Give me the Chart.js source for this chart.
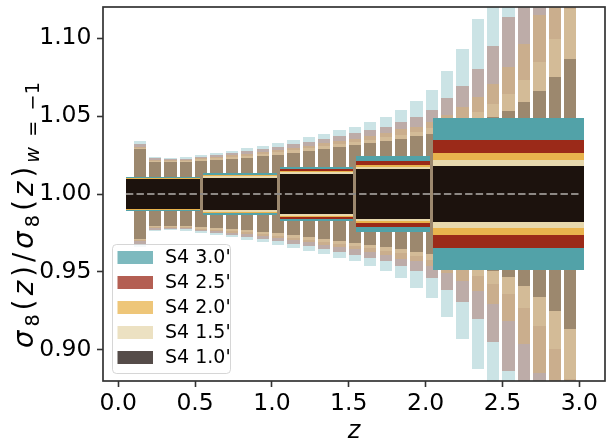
<!DOCTYPE html>
<html><head><meta charset="utf-8">
<style>html,body{margin:0;padding:0;background:#fff;}#wrap{width:610px;height:443px;}</style>
<script src="https://cdn.jsdelivr.net/npm/chart.js@4.4.1/dist/chart.umd.min.js"></script>
</head><body><div id="wrap"><canvas id="c" width="610" height="443"></canvas></div>
<script>
// ---- data ----
const Y_TICKS = [0.90, 0.95, 1.00, 1.05, 1.10];
const X_TICKS = [0.0, 0.5, 1.0, 1.5, 2.0, 2.5, 3.0];
const SERIES_LABELS = ["S4 3.0'", "S4 2.5'", "S4 2.0'", "S4 1.5'", "S4 1.0'"];

// narrow bars: left edge in z, width in z
const Z_BARS = [0.1,0.2,0.3,0.4,0.5,0.6,0.7,0.8,0.9,1.0,1.1,1.2,1.3,1.4,1.5,1.6,1.7,1.8,1.9,2.0,2.1,2.2,2.3,2.4,2.5,2.6,2.7,2.8,2.9];
const BAR_WIDTH_Z = 0.08;
// half-widths of sigma8 ratio around 1 for each narrow bar
const S4_30_BAR = [0.0337,0.0235,0.0229,0.0235,0.0250,0.0261,0.0273,0.0293,0.0305,0.0325,0.0344,0.0363,0.0382,0.0408,0.0433,0.0459,0.0497,0.0542,0.0600,0.0670,0.0791,0.0931,0.1120,0.134,0.160,0.192,0.230,0.275,0.333];
const S4_25_BAR = [0.0318,0.0229,0.0224,0.0226,0.0239,0.0248,0.0261,0.0273,0.0286,0.0299,0.0318,0.0333,0.0350,0.0369,0.0389,0.0408,0.0433,0.0465,0.0497,0.0542,0.0614,0.0694,0.0803,0.0947,0.1136,0.134,0.160,0.192,0.230];
const S4_20_BAR = [0.0303,0.0220,0.0218,0.0220,0.0229,0.0235,0.0248,0.0256,0.0269,0.0280,0.0293,0.0307,0.0325,0.0339,0.0354,0.0371,0.0390,0.0414,0.0433,0.0465,0.0508,0.0558,0.0624,0.0709,0.0813,0.0962,0.1149,0.134,0.160];
const S4_15_BAR = [0.0296,0.0213,0.0211,0.0213,0.0222,0.0229,0.0239,0.0245,0.0258,0.0267,0.0280,0.0292,0.0307,0.0320,0.0333,0.0346,0.0363,0.0378,0.0397,0.0421,0.0455,0.0480,0.0525,0.0576,0.0643,0.0730,0.0848,0.0992,0.1184];
const S4_10_BAR = [0.0286,0.0205,0.0205,0.0205,0.0211,0.0218,0.0226,0.0230,0.0243,0.0250,0.0261,0.0273,0.0286,0.0299,0.0312,0.0325,0.0337,0.0350,0.0369,0.0382,0.0403,0.0429,0.0454,0.0493,0.0534,0.0589,0.0659,0.0749,0.0867];

// wide boxes (tomographic bins)
const BOX_START = [0.05, 0.55, 1.05, 1.55, 2.05];
const BOX_END   = [0.53, 1.03, 1.53, 2.03, 3.03];
const S4_30_BOX = [0.0108, 0.0134, 0.0171, 0.0241, 0.0485];
const S4_25_BOX = [0.0105, 0.0122, 0.0158, 0.0209, 0.0344];
const S4_20_BOX = [0.0102, 0.0119, 0.0145, 0.0184, 0.0261];
const S4_15_BOX = [0.0099, 0.0114, 0.0139, 0.0173, 0.0216];
const S4_10_BOX = [0.0095, 0.0105, 0.0126, 0.0158, 0.0177];

const REF_LINE_Z = [0.05, 3.0];
const REF_VALUE = 1.0;

// ---- styles ----
const RGB = [[82,162,168],[155,42,25],[233,179,77],[231,216,173],[28,18,13]];
const LEGEND_COLORS = ['#7db9be','#b45f53','#eec679','#ece1c2','#554c49'];
const BAR_SETS = [S4_30_BAR, S4_25_BAR, S4_20_BAR, S4_15_BAR, S4_10_BAR];
const BOX_SETS = [S4_30_BOX, S4_25_BOX, S4_20_BOX, S4_15_BOX, S4_10_BOX];

const datasets = [];
datasets.push({
  type: 'line', label: 'ref',
  data: REF_LINE_Z.map(z => ({x: z, y: REF_VALUE})),
  borderColor: '#8d8884', borderWidth: 2.2, borderDash: [7.4, 3.2],
  pointRadius: 0, order: 0, fill: false
});
for (let k = 0; k < 5; k++) {
  const rgb = RGB[k];
  for (let b = 0; b < BOX_START.length; b++) {
    datasets.push({
      type: 'bar', label: SERIES_LABELS[k] + ' box', stack: 'a',
      widthZ: BOX_END[b] - BOX_START[b],
      data: [{x: (BOX_START[b] + BOX_END[b]) / 2, y: [REF_VALUE - BOX_SETS[k][b], REF_VALUE + BOX_SETS[k][b]]}],
      backgroundColor: `rgb(${rgb.join(',')})`,
      borderWidth: 0, inflateAmount: 0, order: 5 - k
    });
  }
  datasets.push({
    type: 'bar', label: SERIES_LABELS[k], stack: 'a',
    widthZ: BAR_WIDTH_Z,
    data: Z_BARS.map((z, i) => ({x: z + BAR_WIDTH_Z / 2, y: [REF_VALUE - BAR_SETS[k][i], REF_VALUE + BAR_SETS[k][i]]})),
    backgroundColor: `rgba(${rgb.join(',')},0.3)`,
    borderWidth: 0, inflateAmount: 0, order: 10 - k
  });
}

const FONT = '"DejaVu Sans"';
Chart.defaults.font.family = FONT;
Chart.defaults.color = '#000';

// snap bar rectangles to whole pixels (as the reference renderer does)
const snap = {
  id: 'snap',
  afterDatasetsUpdate(chart) {
    chart.getSortedVisibleDatasetMetas().forEach(meta => {
      if (meta.type !== 'bar') return;
      meta.data.forEach(el => {
        const l = Math.round(el.x - el.width / 2), r = Math.round(el.x + el.width / 2);
        el.x = (l + r) / 2; el.width = r - l;
        el.y = Math.round(el.y); el.base = Math.round(el.base);
      });
    });
  }
};

const decor = {
  id: 'decor',
  afterDraw(chart) {
    const ctx = chart.ctx, ca = chart.chartArea;
    ctx.save();
    ctx.strokeStyle = '#333'; ctx.lineWidth = 1.7;
    ctx.strokeRect(ca.left, ca.top, ca.right - ca.left, ca.bottom - ca.top);
    // legend
    const lx = ca.left + 9, ly = ca.bottom - 137, lw = 118, lh = 129;
    ctx.beginPath();
    ctx.roundRect(lx + 0.5, ly + 0.5, lw, lh, 4);
    ctx.fillStyle = 'rgba(255,255,255,0.8)'; ctx.fill();
    ctx.strokeStyle = 'rgba(204,204,204,0.8)'; ctx.lineWidth = 1; ctx.stroke();
    ctx.font = `19px ${FONT}`; ctx.textBaseline = 'middle'; ctx.textAlign = 'left';
    for (let k = 0; k < 5; k++) {
      const cy = ly + 13.5 + 25 * k;
      ctx.fillStyle = LEGEND_COLORS[k];
      ctx.fillRect(lx + 5.5, cy - 6.5, 35.5, 13);
      ctx.fillStyle = '#000';
      ctx.fillText(SERIES_LABELS[k], lx + 53, cy + 1);
    }
    // x label
    ctx.font = `italic 24px ${FONT}`; ctx.textAlign = 'center'; ctx.textBaseline = 'alphabetic';
    ctx.fillText('z', (ca.left + ca.right) / 2, 438);
    // y label with subscripts
    const F = 27.5, S = F * 0.7, sub = F * 0.22, SPAN = 266;
    const it = `italic ${F}px ${FONT}`, up = `${F}px ${FONT}`, sit = `italic ${S}px ${FONT}`, sup = `${S}px ${FONT}`;
    const runs = [['σ',it,0],['8',sup,sub],['(',up,0],['z',it,0],[')',up,0],['/',up,0],['σ',it,0],['8',sup,sub],['(',up,0],['z',it,0],[')',up,0],['w',sit,sub],[' = ',sup,sub],['−1',sup,sub]];
    let total = 0;
    runs.forEach(r => { ctx.font = r[1]; total += ctx.measureText(r[0]).width; });
    const gap = Math.max(0, (SPAN - total) / (runs.length - 1));
    ctx.translate(33, 215); ctx.rotate(-Math.PI / 2);
    ctx.textAlign = 'left';
    let x = -(total + gap * (runs.length - 1)) / 2;
    runs.forEach(r => { ctx.font = r[1]; ctx.fillText(r[0], x, r[2]); x += ctx.measureText(r[0]).width + gap; });
    ctx.restore();
  }
};

const chart = new Chart(document.getElementById('c'), {
  type: 'bar',
  data: { datasets },
  options: {
    responsive: false, animation: false, devicePixelRatio: 1,
    layout: { padding: { left: 0, right: 5, top: 7, bottom: 0 } },
    plugins: { legend: { display: false }, tooltip: { enabled: false } },
    scales: {
      x: {
        type: 'linear', min: -0.099, max: 3.167, offset: false,
        afterFit(s) { s.height = 62; s.paddingLeft = 0; s.paddingRight = 0; },
        afterBuildTicks(s) { s.ticks = X_TICKS.map(v => ({value: v})); },
        grid: { offset: false, drawOnChartArea: false, drawTicks: true, tickLength: 6, tickWidth: 1.6, tickColor: '#333' },
        border: { display: false },
        ticks: { font: { size: 23.5 }, padding: 3, maxRotation: 0, callback: v => v.toFixed(1) }
      },
      y: {
        type: 'linear', min: 0.88, max: 1.12, stacked: false,
        afterFit(s) { s.width = 103; s.paddingTop = 0; s.paddingBottom = 0; },
        afterBuildTicks(s) { s.ticks = Y_TICKS.map(v => ({value: v})); },
        grid: { drawOnChartArea: false, drawTicks: true, tickLength: 6, tickWidth: 1.6, tickColor: '#333' },
        border: { display: false },
        ticks: { font: { size: 23.5 }, padding: 5.5, callback: v => v.toFixed(2) }
      }
    }
  },
  plugins: [snap, decor]
});

const xs = chart.scales.x;
const pxPerZ = Math.abs(xs.getPixelForValue(1) - xs.getPixelForValue(0));
chart.data.datasets.forEach(ds => { if (ds.widthZ) ds.barThickness = ds.widthZ * pxPerZ; });
chart.update();
</script></body></html>
